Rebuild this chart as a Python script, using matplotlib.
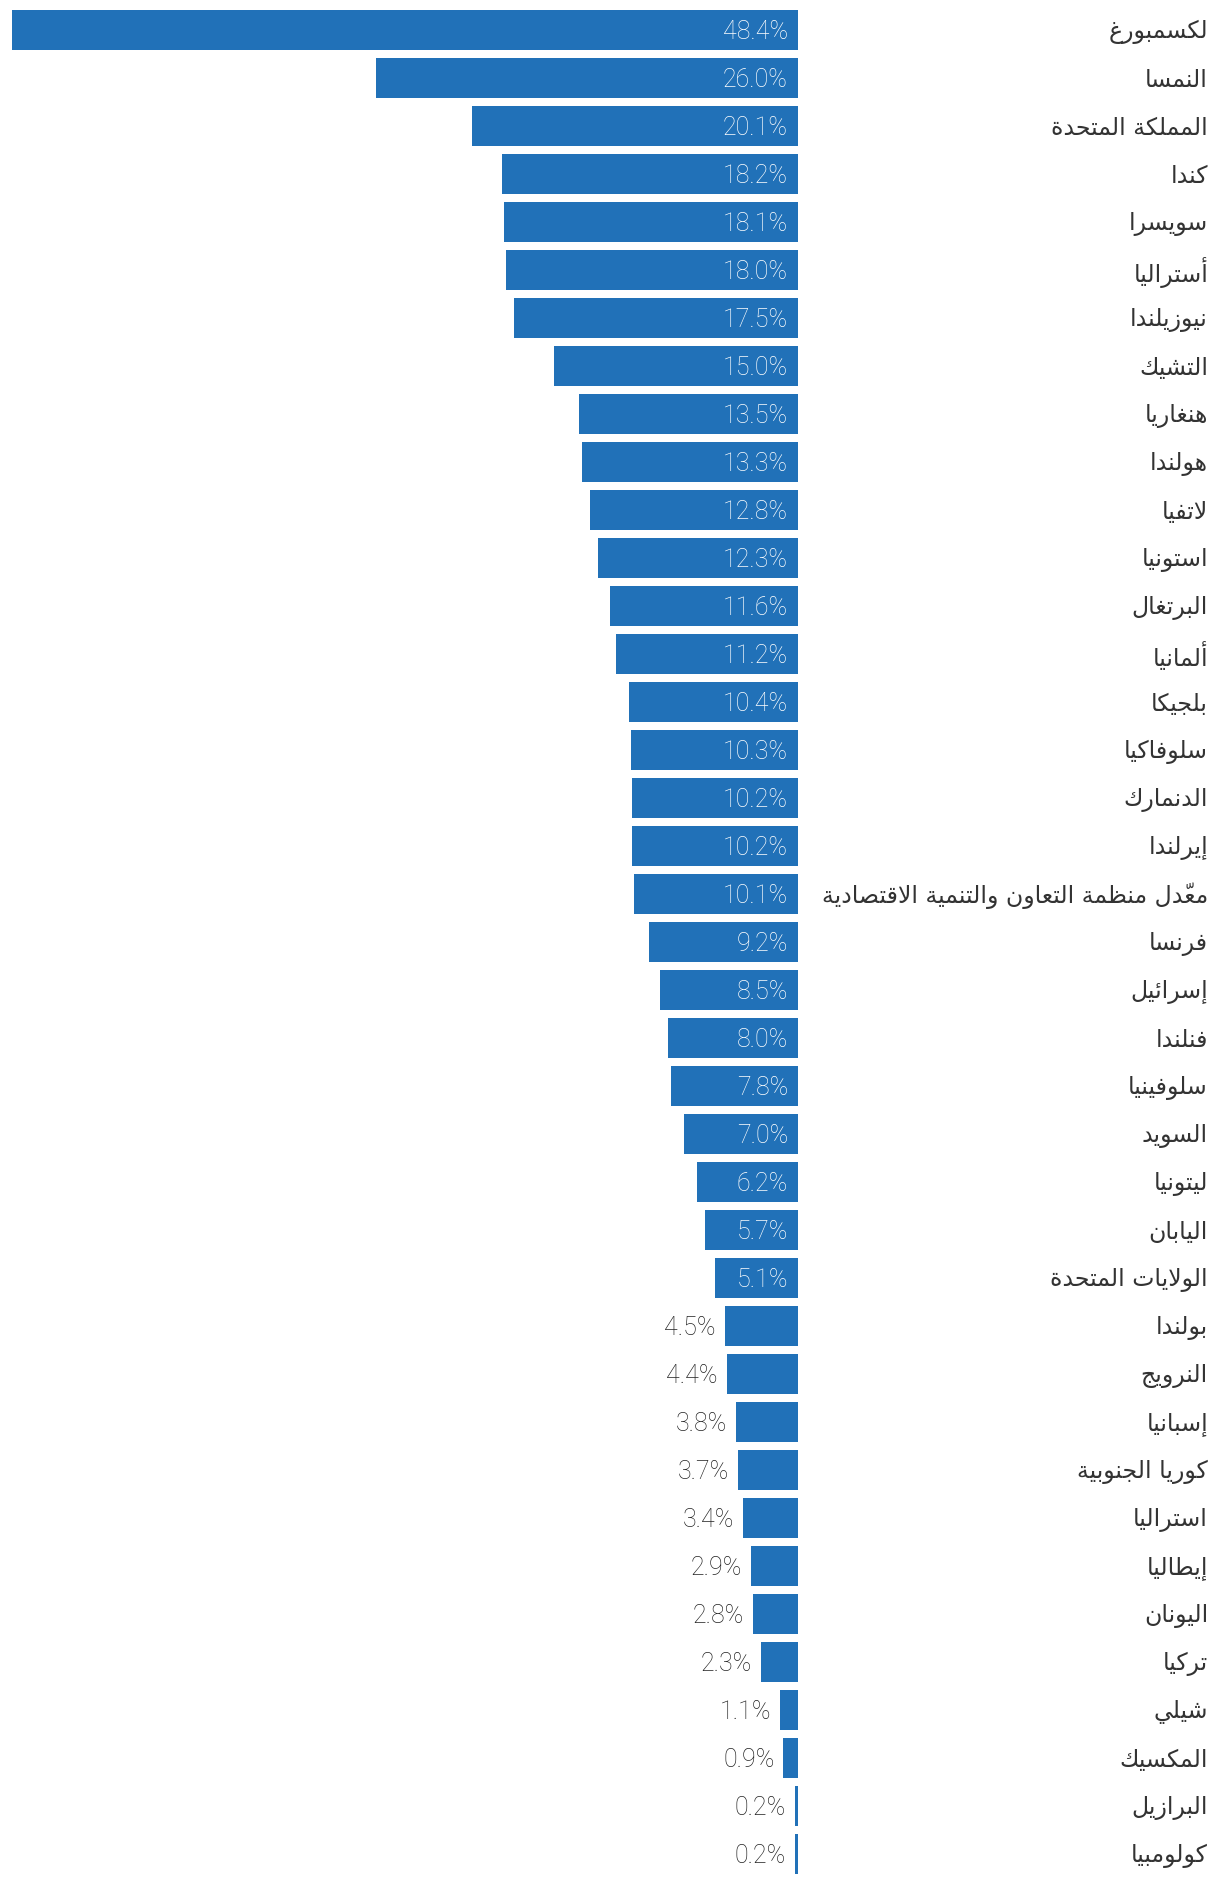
import numpy as np
import matplotlib
matplotlib.use('Agg')
import matplotlib.pyplot as plt

countries = ['لكسمبورغ', 'النمسا', 'المملكة المتحدة', 'كندا', 'سويسرا', 'أستراليا',
             'نيوزيلندا', 'التشيك', 'هنغاريا', 'هولندا', 'لاتفيا', 'استونيا',
             'البرتغال', 'ألمانيا', 'بلجيكا', 'سلوفاكيا', 'الدنمارك', 'إيرلندا',
             'معدّل منظمة التعاون والتنمية الاقتصادية', 'فرنسا', 'إسرائيل', 'فنلندا',
             'سلوفينيا', 'السويد', 'ليتونيا', 'اليابان', 'الولايات المتحدة', 'بولندا',
             'النرويج', 'إسبانيا', 'كوريا الجنوبية', 'استراليا', 'إيطاليا', 'اليونان',
             'تركيا', 'شيلي', 'المكسيك', 'البرازيل', 'كولومبيا']
values = [48.4, 26.0, 20.1, 18.2, 18.1, 18.0, 17.5, 15.0, 13.5, 13.3, 12.8, 12.3,
          11.6, 11.2, 10.4, 10.3, 10.2, 10.2, 10.1, 9.2, 8.5, 8.0, 7.8, 7.0, 6.2,
          5.7, 5.1, 4.5, 4.4, 3.8, 3.7, 3.4, 2.9, 2.8, 2.3, 1.1, 0.9, 0.2, 0.2]

# matplotlib has no arabic shaping, so map letters to presentation forms by hand
DUAL = {0x626: 0xFE89, 0x628: 0xFE8F, 0x62A: 0xFE95, 0x62B: 0xFE99, 0x62C: 0xFE9D,
        0x62D: 0xFEA1, 0x62E: 0xFEA5, 0x633: 0xFEB1, 0x634: 0xFEB5, 0x635: 0xFEB9,
        0x636: 0xFEBD, 0x637: 0xFEC1, 0x638: 0xFEC5, 0x639: 0xFEC9, 0x63A: 0xFECD,
        0x641: 0xFED1, 0x642: 0xFED5, 0x643: 0xFED9, 0x644: 0xFEDD, 0x645: 0xFEE1,
        0x646: 0xFEE5, 0x647: 0xFEE9, 0x64A: 0xFEF1}
RIGHT = {0x622: 0xFE81, 0x623: 0xFE83, 0x624: 0xFE85, 0x625: 0xFE87, 0x627: 0xFE8D,
         0x629: 0xFE93, 0x62F: 0xFEA9, 0x630: 0xFEAB, 0x631: 0xFEAD, 0x632: 0xFEAF,
         0x648: 0xFEED, 0x649: 0xFEEF}
LAMALEF = {0x622: 0xFEF5, 0x623: 0xFEF7, 0x625: 0xFEF9, 0x627: 0xFEFB}


def shape(text):
    units = []  # [base code, kind, marks]
    i = 0
    while i < len(text):
        c = ord(text[i])
        if 0x64B <= c <= 0x652 and units:
            units[-1][2] += text[i]
        elif c == 0x644 and i + 1 < len(text) and ord(text[i + 1]) in LAMALEF:
            units.append([LAMALEF[ord(text[i + 1])], 'r', ''])
            i += 1
        elif c in DUAL:
            units.append([DUAL[c], 'd', ''])
        elif c in RIGHT:
            units.append([RIGHT[c], 'r', ''])
        else:
            units.append([c, 'n', ''])
        i += 1
    out = []
    for k, (base, kind, marks) in enumerate(units):
        prev_j = k > 0 and units[k - 1][1] == 'd'
        next_j = kind == 'd' and k + 1 < len(units) and units[k + 1][1] in 'dr'
        if kind == 'n':
            g = base
        elif kind == 'r':
            g = base + (1 if prev_j else 0)
        else:
            g = base + {(False, False): 0, (True, False): 1,
                        (False, True): 2, (True, True): 3}[(prev_j, next_j)]
        out.append(chr(g) + marks)
    return ''.join(reversed(out))


fig = plt.figure(figsize=(12.2, 18.84), dpi=100)
ax = fig.add_axes([12 / 1220, 6 / 1884, 786 / 1220, 1872 / 1884])
y = np.arange(len(values))
ax.barh(y, values, height=40 / 48, color='#2171b8')
ax.set_xlim(max(values), 0)
ax.set_ylim(len(values) - 0.5, -0.5)
ax.axis('off')

num_font = dict(fontsize=18, family=['Roboto', 'DejaVu Sans'], fontweight='light')
for yi, v, name in zip(y, values, countries):
    txt = f'{v:.1f}%'
    if v >= 5:
        ax.annotate(txt, (0, yi), xytext=(-10, -2), textcoords='offset pixels',
                    ha='right', va='center', color='white', **num_font)
    else:
        ax.annotate(txt, (v, yi), xytext=(-9, -2), textcoords='offset pixels',
                    ha='right', va='center', color='#222222', **num_font)
    # country names sit at a fixed pixel column on the right
    ax.annotate(shape(name), (0, yi), xytext=(410, -2), textcoords='offset pixels',
                ha='right', va='center', color='#333333', fontsize=17,
                family='DejaVu Sans')

fig.savefig('out.png', dpi=100)
